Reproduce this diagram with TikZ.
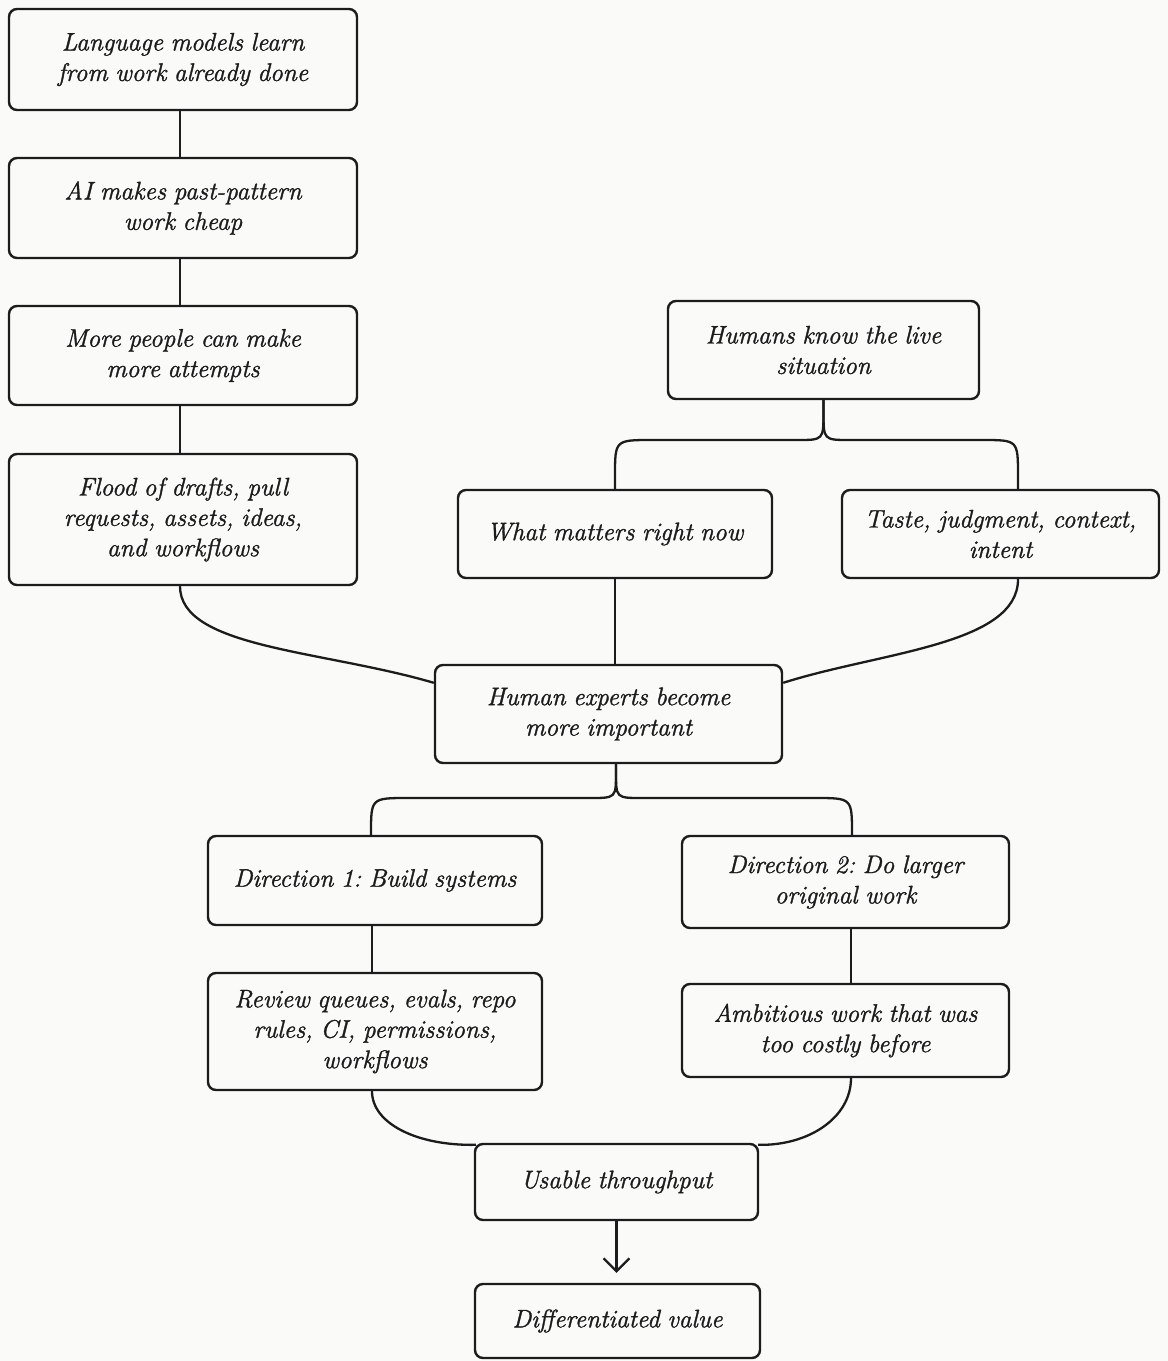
\documentclass[tikz,border=0pt]{standalone}
\usepackage{fontspec}
\setmainfont{Latin Modern Roman}[ItalicFeatures={FakeBold=1.3}, WordSpace=0.85]
\frenchspacing
\usetikzlibrary{arrows.meta,calc}
\definecolor{bg}{RGB}{250,250,248}
\definecolor{ink}{RGB}{28,28,28}
\begin{document}
\begin{tikzpicture}[x=0.5pt,y=-0.5pt,
  box/.style={draw=ink, line width=1.2pt, rounded corners=4pt, align=center,
    inner sep=0pt, fill=bg, text=ink,
    font=\fontsize{12.7}{15.2}\selectfont\itshape},
  conn/.style={draw=ink, line width=1.15pt}]
\fill[bg] (0,0) rectangle (1168,1361);
\useasboundingbox (0,0) rectangle (1168,1361);

% left column
\node[box, minimum width=174pt, minimum height=50.5pt] (n1) at (183,59.5) {Language models learn\\from work already done};
\node[box, minimum width=174pt, minimum height=50pt] (n2) at (183,208) {AI makes past-pattern\\work cheap};
\node[box, minimum width=174pt, minimum height=49.5pt] (n3) at (183,355.5) {More people can make\\more attempts};
\node[box, minimum width=174pt, minimum height=65.5pt] (n4) at (183,519.5) {Flood of drafts, pull\\requests, assets, ideas,\\and workflows};

% right top
\node[box, minimum width=155.5pt, minimum height=49pt] (n5) at (823.5,350) {Humans know the live\\situation};
\node[box, minimum width=157pt, minimum height=44pt] (n6) at (615,534) {What matters right now};
\node[box, minimum width=158.5pt, minimum height=44pt] (n7) at (1000.5,534) {Taste, judgment, context,\\intent};

% center
\node[box, minimum width=173.5pt, minimum height=49pt] (n8) at (608.5,714) {Human experts become\\more important};

% directions
\node[box, minimum width=167pt, minimum height=44.5pt] (n9) at (375,880.5) {Direction 1: Build systems};
\node[box, minimum width=163.5pt, minimum height=46pt] (n10) at (845.5,882) {Direction 2: Do larger\\original work};
\node[box, minimum width=167pt, minimum height=58.5pt] (n11) at (375,1031.5) {Review queues, evals, repo\\rules, CI, permissions,\\workflows};
\node[box, minimum width=163.5pt, minimum height=46.5pt] (n12) at (845.5,1030.5) {Ambitious work that was\\too costly before};

% bottom
\node[box, minimum width=141.5pt, minimum height=38pt] (n13) at (616.5,1182) {Usable throughput};
\node[box, minimum width=142.5pt, minimum height=37pt] (n14) at (617.5,1321) {Differentiated value};

% left chain
\draw[conn] ($(n1.south)+(-3,0)$) -- ($(n2.north)+(-3,0)$);
\draw[conn] ($(n2.south)+(-3,0)$) -- ($(n3.north)+(-3,0)$);
\draw[conn] ($(n3.south)+(-3,0)$) -- ($(n4.north)+(-3,0)$);

% flood -> experts
\draw[conn] ($(n4.south)+(-3,0)$) .. controls (180,648) and (322,650) .. ($(n8.north west)+(0,19)$);

% upper brace
\draw[conn] (n5.south) -- (823.5,412) .. controls (823.5,440) .. (797,440) -- (652,440) .. controls (615,440) .. (615,476) -- (n6.north);
\draw[conn] (n5.south) -- (823.5,412) .. controls (823.5,440) .. (850,440) -- (982,440) .. controls (1018,440) .. (1018,476) -- ($(n7.north)+(17.5,0)$);

% into experts
\draw[conn] (n6.south) -- (n6.south |- n8.north);
\draw[conn] ($(n7.south)+(17.5,0)$) .. controls (1018,645) and (880,652) .. ($(n8.north east)+(0,19)$);

% lower brace
\draw[conn] ($(n8.south)+(7.5,0)$) -- (616,772) .. controls (616,798) .. (590,798) -- (408,798) .. controls (371,798) .. (371,834) -- ($(n9.north)+(-4,0)$);
\draw[conn] ($(n8.south)+(7.5,0)$) -- (616,772) .. controls (616,798) .. (642,798) -- (815,798) .. controls (852,798) .. (852,834) -- ($(n10.north)+(6.5,0)$);

% direction chains
\draw[conn] ($(n9.south)+(-3,0)$) -- ($(n11.north)+(-3,0)$);
\draw[conn] ($(n10.south)+(5.5,0)$) -- ($(n12.north)+(5.5,0)$);

% into throughput
\draw[conn] ($(n11.south)+(-3,0)$) .. controls (372,1124) and (418,1146) .. ($(n13.north west)+(2,2)$);
\draw[conn] ($(n12.south)+(5.5,0)$) .. controls (851,1118) and (808,1146) .. ($(n13.north east)+(-1,2)$);

% arrow
\draw[conn, -{Straight Barb[length=6.5pt,width=13pt,line width=1.1pt]}] (n13.south) -- ($(n13.south |- n14.north)+(0,-10)$);
\end{tikzpicture}
\end{document}
